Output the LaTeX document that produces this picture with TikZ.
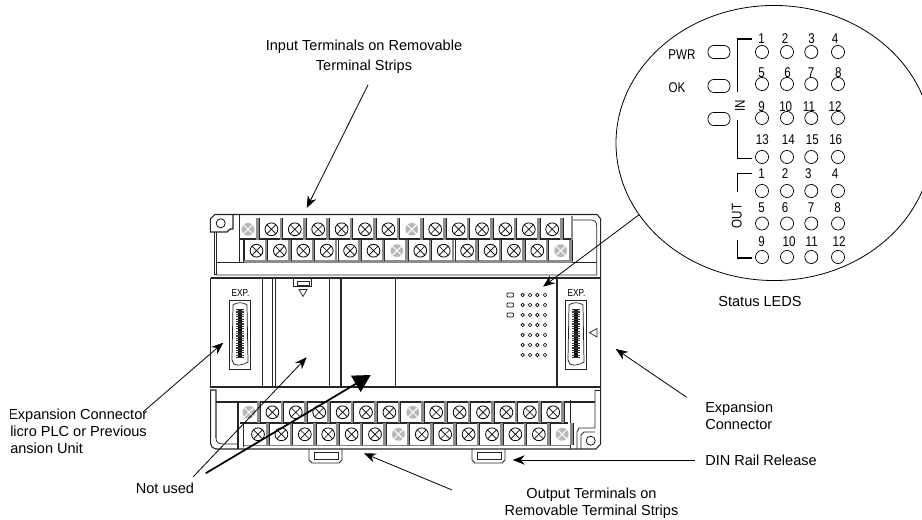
\documentclass[tikz,border=0pt]{standalone}
\usepackage{fontspec}
\setmainfont{Liberation Sans}
\newfontfamily\narrowfont[FakeStretch=0.82]{Liberation Sans}
\usetikzlibrary{arrows.meta,shapes.geometric}

\tikzset{
    body/.style={line width=.8pt, draw=black!85},
    thin body/.style={line width=.55pt, draw=black!85},
    bar/.style={line width=1.9pt, draw=black!45},
    screw/.style={circle, draw, line width=.6pt, minimum size=9.6pt, inner sep=0pt,
      path picture={\draw[line width=.5pt]
        (path picture bounding box.north west) -- (path picture bounding box.south east)
        (path picture bounding box.north east) -- (path picture bounding box.south west);}},
    blank/.style={circle, fill=black!28, minimum size=9.6pt, inner sep=0pt,
      path picture={\draw[white, line width=.7pt]
        (path picture bounding box.north west) -- (path picture bounding box.south east)
        (path picture bounding box.north east) -- (path picture bounding box.south west);}},
    callout/.style={font=\fontsize{10.9}{12.8}\selectfont, inner sep=0pt},
    pointer/.style={line width=.6pt, -{Stealth[length=9pt, width=7pt]}},
    heavy pointer/.style={line width=1.3pt, -{Triangle[length=13pt, width=14pt]}},
    lamp/.style={circle, draw, line width=.55pt, minimum size=9.8pt, inner sep=0pt},
    pill/.style={rounded corners=4.5pt, draw, line width=.55pt, minimum width=16.5pt, minimum height=9.8pt, inner sep=0pt},
    lampnum/.style={font=\narrowfont\fontsize{10.6}{12}\selectfont, inner sep=0pt},
    explabel/.style={font=\narrowfont\fontsize{7.6}{9}\selectfont, inner sep=0pt},
    led/.style={circle, draw, line width=.5pt, minimum size=2.6pt, inner sep=0pt},
    ledbox/.style={rounded corners=.7pt, draw, line width=.5pt, minimum width=5pt, minimum height=3pt, inner sep=0pt},
    bracket/.style={line width=.95pt},
}

\begin{document}
\begin{tikzpicture}[x=.75pt, y=-.75pt]
    \clip (0,0) rectangle (922,520);

    % housing
    \draw[body] (233,214.5) -- (597,214.5) -- (600.7,219) -- (600.7,444) -- (596,449) -- (216,449)
      arc[start angle=90, end angle=180, radius=5.3] -- (210.7,390) -- (216,390) -- (216,438);
    \draw[thin body] (216,438) .. controls (216,443) and (219,444) .. (224,444) -- (238,444);
    \draw[body] (233,214.5) -- (215,214.5) -- (210.3,219) -- (210.3,232) -- (227,232) -- (230,229) -- (233,229) -- cycle;
    \draw[body] (214.5,232) -- (214.5,274.5) -- (216.5,274.5) -- (216.5,232);
    \draw[body] (210.7,278) -- (600.7,278);
    \draw[body] (210.7,278) -- (210.7,387) -- (600.7,387);
    \draw[thin body] (573,220) -- (591,220) .. controls (595,220) and (596.7,222) .. (596.7,226) -- (596.7,275) -- (216.5,275);
    \draw[thin body] (595,390) -- (600.7,390);
    \draw[thin body] (595,390) -- (595,428) -- (579,428) -- (577,432) -- (577,449);
    \draw[thin body] (595,432) -- (584,432) -- (581,435) -- (581,449);
    \node[circle, draw, line width=.55pt, minimum size=6.8pt, inner sep=0pt] (holetop) at (220.7,223.3) {};
    \node[circle, draw, line width=.55pt, minimum size=6.8pt, inner sep=0pt] (holebot) at (590.7,440.7) {};

    % terminal strips
    \draw[body] (239.3,214.5) -- (239.3,262.5) (244,240) -- (244,262.5);
    \draw[body] (239.3,239) -- (572,239) (216.5,262.8) -- (596.7,262.8);
    \draw[bar] (244,261.4) -- (572,261.4);
    \draw[bar] (572,216) -- (572,262);
    \draw[body] (216,402) -- (595,402) (240,423) -- (568,423) (238,402) -- (238,449) (570.5,400) -- (570.5,449);
    \draw[thin body, draw=black!50] (244,445.3) -- (570,445.3);
    \draw[body] (243.5,423) -- (243.5,447);
    \foreach \rname/\xs/\ys/\ga/\gb in {a/248/229.3/0/7, b/256.5/250.7/6/13, c/249/412.3/0/7, d/258/434.3/6/13}{
      \foreach \i in {0,...,13}{
        \def\kind{screw}
        \ifnum\i=\ga \def\kind{blank}\fi
        \ifnum\i=\gb \def\kind{blank}\fi
        \node[\kind] (\rname\i) at ({\xs+23.4*\i},\ys) {};
        \draw[bar] ({\xs+23.4*\i+9.5},\ys-11) -- ({\xs+23.4*\i+9.5},\ys+10.5);
        \draw[thin body] ({\xs+23.4*\i+11.2},\ys-11) -- ({\xs+23.4*\i+11.2},\ys+10.5);
      }
    }

    % front panel
    \foreach \xa in {262.3,272.7,275,329.3,395.7}
      \draw[thin body] (\xa,278) -- (\xa,387);
    \draw[body, line width=1pt] (341,278) -- (341,387);
    \draw[body, line width=1pt] (557,278) -- (557,387);
    \draw[thin body] (293.3,278) -- (293.3,286) -- (311.7,286) -- (311.7,278);
    \draw[thin body] (297,281) rectangle (309,285);
    \draw[thin body] (299,289.5) -- (307,289.5) -- (303,296.5) -- cycle;

    % expansion ports
    \foreach \px/\pname in {240/portl,576/portr}{
      \node[explabel] (\pname label) at (\px+.5,293.5) {EXP.};
      \draw[thin body] (\px-10.5,303) -- (\px-10.5,300) -- (\px+10.7,300) -- (\px+10.7,369) -- (\px-10.5,369) -- cycle;
      \draw[thin body] (\px-7,305) .. controls (\px-4,302) and (\px+4,302) .. (\px+7,305)
        -- (\px+8,362) .. controls (\px+3,365) and (\px-3,366) .. (\px-6,364) -- (\px-8,360) -- cycle;
      \draw[line width=3.2pt, draw=black] (\px,309) -- (\px,358);
      \draw[line width=5.6pt, draw=black!80, dash pattern=on .9pt off .9pt] (\px,309) -- (\px,358);
    }
    \draw[thin body] (597,328.5) -- (597,337) -- (589.5,332.7) -- cycle;

    % status leds on panel
    \foreach \ya in {295,305,315}
      \node[ledbox] (box\ya) at (510.3,\ya) {};
    \foreach \ya in {295,305,...,355}
      \foreach \xa in {522.7,530,537.3,545}
        \node[led] (led\xa-\ya) at (\xa,\ya) {};

    % din rail releases
    \foreach \xa in {309,472}{
      \draw[thin body] (\xa,449) -- (\xa,460) -- (\xa+3,463) -- (\xa+30,463) -- (\xa+33,460) -- (\xa+33,449);
      \draw[thin body] (\xa+5,452.7) rectangle (\xa+29,459);
    }

    % enlarged view
    \node[ellipse, draw, line width=.6pt, minimum width=237pt, minimum height=206.3pt, inner sep=0pt, outer sep=0pt] (lens) at (774,143) {};
    \node[lampnum] (pwr) at (682,55) {PWR};
    \node[lampnum] (ok) at (677,88) {OK};
    \foreach \ya in {52,86,119}
      \node[pill] (pill\ya) at (719,\ya) {};
    \foreach \ya in {52,84,118,157,191,223.5,257}
      \foreach \xa in {762,787,811.3,838}
        \node[lamp] (lamp\xa-\ya) at (\xa,\ya) {};
    \foreach \txt/\xa/\ya in {1/761.7/39,2/785/39,3/811.7/39,4/835/39,
        5/761.7/73,6/787.7/73,7/811/73,8/838.3/73,
        9/761.7/107,10/785.7/107,11/809/107,12/835/107,
        13/762.3/140,14/788.3/140,15/812.3/140,16/835.7/140}
      \node[lampnum] (in\txt) at (\xa,\ya) {\txt};
    \foreach \txt/\xa/\ya in {1/761.7/174,2/785/174,3/808.3/174,4/835/174,
        5/761.7/207.7,6/785/207.7,7/811/207.7,8/837.7/207.7,
        9/761.7/241.7,10/789/241.7,11/811.7/241.7,12/839/241.7}
      \node[lampnum] (out\txt) at (\xa,\ya) {\txt};
    \node[lampnum, rotate=90] (inlabel) at (740,105.5) {IN};
    \node[lampnum, rotate=90] (outlabel) at (736.7,216) {OUT};
    \draw[bracket] (752.3,39) -- (737.3,39) -- (737.3,91.7);
    \draw[bracket] (737.3,120) -- (737.3,158.3) -- (752.3,158.3);
    \draw[bracket] (752.3,173.5) -- (737.3,173.5) -- (737.3,192);
    \draw[bracket] (737.3,240) -- (737.3,258) -- (752.3,258);

    % labels
    \node[callout, align=center] (inputlbl) at (364,57) {Input Terminals on Removable\\[2.2pt]Terminal Strips};
    \node[callout] (statuslbl) at (760,301) {Status LEDS};
    \node[callout, align=left, anchor=north west] (explbl) at (705,402) {Expansion\\Connector};
    \node[callout, anchor=west] (dinlbl) at (705,460) {DIN Rail Release};
    \node[callout, align=center] (outputlbl) at (591.5,503.5) {Output Terminals on\\Removable Terminal Strips};
    \node[callout] (notused) at (165,488) {Not used};
    \begin{scope}
      \clip (10.5,395) rectangle (200,470);
      \node[callout, align=left, anchor=north west] (prevlbl) at (8,409) {Expansion Connector\\\hspace{1.5pt}licro PLC or Previous\\\hspace{1.5pt}ansion Unit};
    \end{scope}

    % pointers
    \coordinate (inputfrom) at (368,85);
    \coordinate (inputto) at (306.7,208);
    \coordinate (ledto) at (543,286.7);
    \coordinate (prevfrom) at (143,412);
    \coordinate (prevto) at (223.3,342.7);
    \coordinate (thinfrom) at (193.3,476.7);
    \coordinate (thinto) at (306.7,357.3);
    \coordinate (heavyfrom) at (205.7,473.3);
    \coordinate (heavyto) at (370.7,375);
    \coordinate (expfrom) at (686.7,397.3);
    \coordinate (expto) at (615.7,349);
    \coordinate (dinto) at (512.7,460);
    \coordinate (outfrom) at (452,490);
    \coordinate (outto) at (364,453.3);
    \draw[pointer] (inputfrom) -- (inputto);
    \draw[pointer] (lens.208) -- (ledto);
    \draw[pointer] (prevfrom) -- (prevto);
    \draw[pointer] (thinfrom) -- (thinto);
    \draw[heavy pointer] (heavyfrom) -- (heavyto);
    \draw[pointer] (expfrom) -- (expto);
    \draw[pointer] ([xshift=-7.5pt]dinlbl.west) -- (dinto);
    \draw[pointer] (outfrom) -- (outto);
\end{tikzpicture}
\end{document}
